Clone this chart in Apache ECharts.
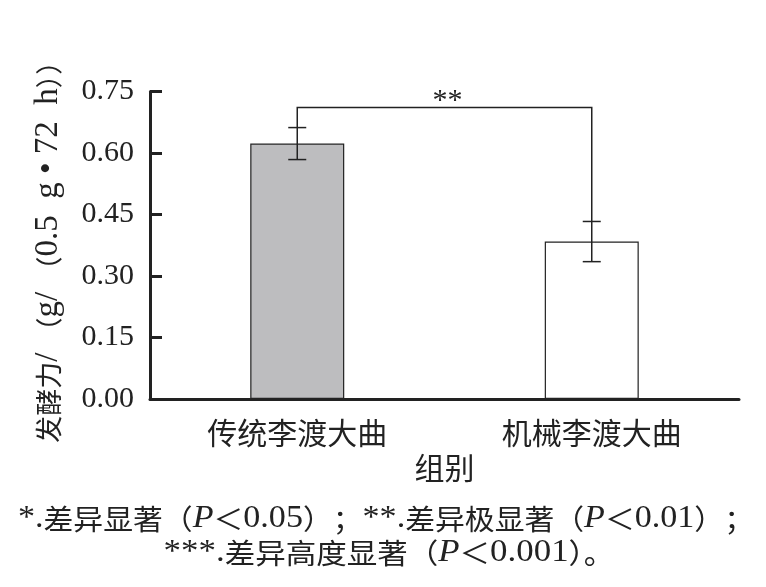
<!DOCTYPE html>
<html>
<head>
<meta charset="utf-8">
<script src="https://cdn.jsdelivr.net/npm/echarts@6/dist/echarts.min.js"></script>
<style>
  * { margin: 0; padding: 0; }
  #chart { width: 766px; height: 587px; background: #fff; }
</style>
</head>
<body>
<div id="chart"></div>
<script>
// 数据
var categories = ['传统李渡大曲', '机械李渡大曲']
var means = [0.623, 0.384]
var errs = [0.039, 0.049]
var barColors = ['#bdbdbf', '#ffffff']
var yTicks = [0, 0.15, 0.30, 0.45, 0.60, 0.75]
var bracketLevel = 0.711
var sigMark = '**'

var serif = '"Liberation Serif", "Noto Sans CJK SC", serif'
var cjk = '"Noto Sans CJK SC", serif'

var richStyles = {
  c: { fontSize: 28, fontFamily: cjk, fill: '#222', color: '#222' },
  a: { fontSize: 32, fontFamily: serif, fill: '#222', color: '#222' },
  i: { fontSize: 32, fontFamily: serif, fontStyle: 'italic', fill: '#222', color: '#222' }
}

var chart = echarts.init(document.getElementById('chart'))

var errData = means.map(function (m, i) { return [i, m - errs[i], m + errs[i]] })

chart.setOption({
  animation: false,
  grid: { left: 150, right: 27, top: 91.5, bottom: 188 },
  xAxis: {
    type: 'category',
    data: categories,
    name: '组别',
    nameLocation: 'middle',
    nameGap: 50,
    nameTextStyle: { color: '#222', fontSize: 30, fontFamily: cjk },
    axisLine: { lineStyle: { color: '#222', width: 3 } },
    axisTick: { inside: true, length: 12, lineStyle: { color: '#222', width: 3 } },
    axisLabel: { color: '#222', fontSize: 30, fontFamily: cjk, margin: 19 }
  },
  yAxis: {
    type: 'value',
    min: 0,
    max: 0.75,
    interval: 0.15,
    name: '{c|发酵力}{a|/ }{c|（}{a|g/ }{c|（}{a|0.5  g • 72  h}{c|））}',
    nameLocation: 'middle',
    nameGap: 85,
    nameTextStyle: {
      color: '#222',
      rich: {
        c: { fontSize: 27, fontFamily: cjk, color: '#222' },
        a: { fontSize: 33, fontFamily: serif, color: '#222' }
      }
    },
    splitLine: { show: false },
    axisLine: { show: true, lineStyle: { color: '#222', width: 3 } },
    axisTick: { show: true, inside: true, length: 12, lineStyle: { color: '#222', width: 3 } },
    axisLabel: {
      color: '#222', fontSize: 30, fontFamily: serif, margin: 16,
      formatter: function (v) {
        var t = yTicks.find(function (x) { return Math.abs(x - v) < 1e-6 })
        return (t === undefined ? v : t).toFixed(2)
      }
    }
  },
  series: [
    {
      type: 'bar',
      barWidth: 94,
      data: means.map(function (m, i) {
        return { value: m, itemStyle: { color: barColors[i], borderColor: '#222', borderWidth: 1.2 } }
      })
    },
    {
      // 误差线
      type: 'custom',
      data: errData,
      z: 5,
      renderItem: function (params, api) {
        var lo = api.coord([api.value(0), api.value(1)])
        var hi = api.coord([api.value(0), api.value(2)])
        var x = lo[0], w = 9
        var st = { stroke: '#222', lineWidth: 1.5 }
        return {
          type: 'group',
          children: [
            { type: 'line', shape: { x1: x, y1: lo[1], x2: x, y2: hi[1] }, style: st },
            { type: 'line', shape: { x1: x - w, y1: lo[1], x2: x + w, y2: lo[1] }, style: st },
            { type: 'line', shape: { x1: x - w, y1: hi[1], x2: x + w, y2: hi[1] }, style: st }
          ]
        }
      }
    },
    {
      // 显著性标注
      type: 'custom',
      data: [[0, 1, means[0] + errs[0], means[1] + errs[1], bracketLevel]],
      z: 5,
      renderItem: function (params, api) {
        var a = api.coord([api.value(0), api.value(2)])
        var b = api.coord([api.value(1), api.value(3)])
        var top = api.coord([api.value(0), api.value(4)])[1]
        return {
          type: 'group',
          children: [
            {
              type: 'polyline',
              shape: { points: [[a[0], a[1]], [a[0], top], [b[0], top], [b[0], b[1]]] },
              style: { stroke: '#222', lineWidth: 1.5, fill: null }
            },
            {
              type: 'text',
              x: (a[0] + b[0]) / 2 + 3,
              y: top - 6,
              style: { text: sigMark, fill: '#222', fontSize: 30, fontFamily: serif, align: 'center', verticalAlign: 'middle' }
            }
          ]
        }
      }
    }
  ],
  graphic: [
    {
      type: 'text',
      x: 386,
      y: 519,
      scaleX: 1.065,
      style: {
        text: '{a|*.}{c|差异显著（}{i|P}{c|＜}{a|0.05}{c|）；}{a|**.}{c|差异极显著（}{i|P}{c|＜}{a|0.01}{c|）；}',
        align: 'center',
        verticalAlign: 'middle',
        rich: richStyles
      }
    },
    {
      type: 'text',
      x: 389,
      y: 553,
      scaleX: 1.09,
      style: {
        text: '{a|***.}{c|差异高度显著（}{i|P}{c|＜}{a|0.001}{c|）。}',
        align: 'center',
        verticalAlign: 'middle',
        rich: richStyles
      }
    }
  ]
})
</script>
</body>
</html>
